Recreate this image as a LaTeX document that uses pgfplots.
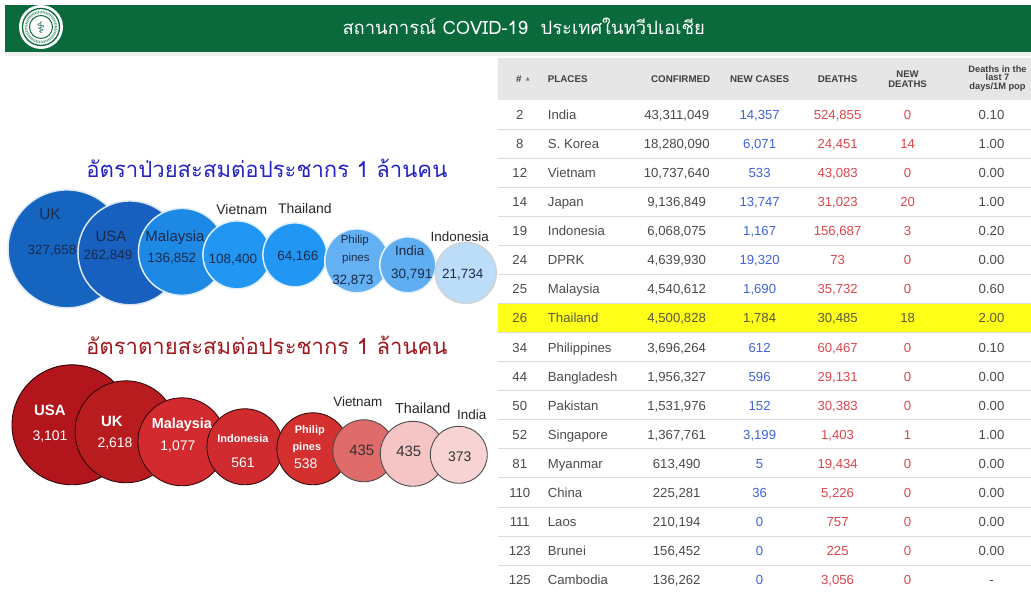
\documentclass[border=0pt]{standalone}
\usepackage{fontspec}
\usepackage{pgfplots}
\usepackage{pgfplotstable}
\pgfplotsset{compat=1.18}
\setmainfont{Liberation Sans}
\newfontfamily\thaifont[Script=Thai]{Loma}
\newfontfamily\symfont{DejaVu Sans}
\newcommand{\fs}[1]{\fontsize{#1}{#1}\selectfont}

\definecolor{hdrgreen}{HTML}{0A6A3C}
\definecolor{btitle}{HTML}{2424C4}
\definecolor{rtitle}{HTML}{A0181F}
\definecolor{navy}{HTML}{1C2A48}
\definecolor{tabtxt}{HTML}{4A4A4A}
\definecolor{tabblue}{HTML}{3F63D6}
\definecolor{tabred}{HTML}{DC464B}
\definecolor{thaitxt}{HTML}{5A5A3A}
\definecolor{hdrgrey}{HTML}{E6E6E6}
\definecolor{sepgray}{HTML}{DCDCDC}
\definecolor{hlyellow}{HTML}{FFFF1A}
% blue bubbles
\definecolor{b1}{HTML}{1565C0}
\definecolor{b2}{HTML}{1760BF}
\definecolor{b3}{HTML}{1E88E5}
\definecolor{b4}{HTML}{2196F3}
\definecolor{b5}{HTML}{2196F3}
\definecolor{b6}{HTML}{63B0F3}
\definecolor{b7}{HTML}{60AEF2}
\definecolor{b8}{HTML}{BBDDFA}
% red bubbles
\definecolor{r1}{HTML}{B2161C}
\definecolor{r2}{HTML}{B81C1F}
\definecolor{r3}{HTML}{D22A2F}
\definecolor{r4}{HTML}{D02C30}
\definecolor{r5}{HTML}{D3302F}
\definecolor{r6}{HTML}{E06B6B}
\definecolor{r7}{HTML}{F5C5C5}
\definecolor{r8}{HTML}{F8D3D3}

\pgfplotstableread{
rank place conf newc deaths newd last7
2 India 43,311,049 14,357 524,855 0 0.10
8 {S. Korea} 18,280,090 6,071 24,451 14 1.00
12 Vietnam 10,737,640 533 43,083 0 0.00
14 Japan 9,136,849 13,747 31,023 20 1.00
19 Indonesia 6,068,075 1,167 156,687 3 0.20
24 DPRK 4,639,930 19,320 73 0 0.00
25 Malaysia 4,540,612 1,690 35,732 0 0.60
26 Thailand 4,500,828 1,784 30,485 18 2.00
34 Philippines 3,696,264 612 60,467 0 0.10
44 Bangladesh 1,956,327 596 29,131 0 0.00
50 Pakistan 1,531,976 152 30,383 0 0.00
52 Singapore 1,367,761 3,199 1,403 1 1.00
81 Myanmar 613,490 5 19,434 0 0.00
110 China 225,281 36 5,226 0 0.00
111 Laos 210,194 0 757 0 0.00
123 Brunei 156,452 0 225 0 0.00
125 Cambodia 136,262 0 3,056 0 -
}\covtab

\pgfplotsset{
  tabcol/.style 2 args={only marks, mark=*, mark size=0pt,
    mark options={draw=none, fill=none},
    nodes near coords, point meta=explicit symbolic,
    nodes near coords style={anchor=#1, font=\fs{13.2}, inner sep=0pt, text=#2}},
}
% x, anchor, column, colour
\newcommand{\tabcolumn}[4]{%
  \addplot[tabcol={#2}{#4}, skip coords between index={7}{8}]
    table[x expr=#1, y expr=119.7+29.06*\coordindex, meta=#3] \covtab;
  \addplot[tabcol={#2}{thaitxt}, skip coords between index={0}{7}, skip coords between index={8}{20}]
    table[x expr=#1, y expr=119.7+29.06*\coordindex, meta=#3] \covtab;
}

\begin{document}
\begin{tikzpicture}
\begin{axis}[
  set layers,
  scale only axis, width=1031bp, height=592bp,
  xmin=0, xmax=1031, ymin=0, ymax=592, y dir=reverse,
  hide axis, clip=false]

\path (axis cs:0,0) rectangle (axis cs:1031,592);

% header bar
\fill[gray!12] (axis cs:5,52) rectangle (axis cs:1031,56);
\fill[hdrgreen] (axis cs:5,5) rectangle (axis cs:1031,52);
\fill[white] (axis cs:41,27) circle[radius=22bp];
\draw[hdrgreen, line width=1.3bp] (axis cs:41,27) circle[radius=18.5bp];
\draw[hdrgreen!60, line width=2.5bp, dash pattern=on 0.8bp off 0.8bp] (axis cs:41,27) circle[radius=15bp];
\draw[hdrgreen, line width=1bp] (axis cs:41,27) circle[radius=11.5bp];
\node[text=hdrgreen, font=\symfont\fs{16}] at (axis cs:41,27.5) {⚕};
\node[text=white, font=\thaifont\fs{18.5}] at (axis cs:524,26) {สถานการณ์ COVID-19\ \ ประเทศในทวีปเอเชีย};

% titles
\node[text=btitle, font=\thaifont\fs{22.2}] at (axis cs:267,168) {อัตราป่วยสะสมต่อประชากร 1 ล้านคน};
\node[text=rtitle, font=\thaifont\fs{22.2}] at (axis cs:267,345) {อัตราตายสะสมต่อประชากร 1 ล้านคน};

% blue bubbles
\addplot[only marks, mark=*, mark size=59bp, mark options={fill=b1, draw=white!85!b1, line width=1.5bp}] coordinates {(67,249)};
\addplot[only marks, mark=*, mark size=52bp, mark options={fill=b2, draw=white!85!b2, line width=1.5bp}] coordinates {(130,253)};
\addplot[only marks, mark=*, mark size=43.5bp, mark options={fill=b3, draw=white!85!b3, line width=1.5bp}] coordinates {(182,252)};
\addplot[only marks, mark=*, mark size=34bp, mark options={fill=b4, draw=white!85!b4, line width=1.5bp}] coordinates {(237,255)};
\addplot[only marks, mark=*, mark size=32bp, mark options={fill=b5, draw=white!85!b5, line width=1.5bp}] coordinates {(295,255)};
\addplot[only marks, mark=*, mark size=32bp, mark options={fill=b6, draw=white!85!b6, line width=1.5bp}] coordinates {(357,261)};
\addplot[only marks, mark=*, mark size=28bp, mark options={fill=b7, draw=white!85!b7, line width=1.5bp}] coordinates {(408,265)};
\addplot[only marks, mark=*, mark size=30.5bp, mark options={fill=b8, draw=gray!35, line width=1.5bp}] coordinates {(466,273)};

% red bubbles
\addplot[only marks, mark=*, mark size=60bp, mark options={fill=r1, draw=black!75!r1, line width=0.9bp}] coordinates {(72,425)};
\addplot[only marks, mark=*, mark size=51bp, mark options={fill=r2, draw=black!75!r2, line width=0.9bp}] coordinates {(126,432)};
\addplot[only marks, mark=*, mark size=44bp, mark options={fill=r3, draw=black!75!r3, line width=0.9bp}] coordinates {(182,442)};
\addplot[only marks, mark=*, mark size=38bp, mark options={fill=r4, draw=black!75!r4, line width=0.9bp}] coordinates {(245,447)};
\addplot[only marks, mark=*, mark size=36bp, mark options={fill=r5, draw=black!75!r5, line width=0.9bp}] coordinates {(313,449)};
\addplot[only marks, mark=*, mark size=31bp, mark options={fill=r6, draw=black!70, line width=0.9bp}] coordinates {(364,451)};
\addplot[only marks, mark=*, mark size=32.5bp, mark options={fill=r7, draw=black!70, line width=0.9bp}] coordinates {(413,454)};
\addplot[only marks, mark=*, mark size=28.5bp, mark options={fill=r8, draw=black!70, line width=0.9bp}] coordinates {(459,455)};

\begin{pgfonlayer}{axis foreground}
% blue labels
\begin{scope}[every node/.style={text=navy, inner sep=0pt}]
\node[font=\fs{15.5}] at (axis cs:50,214) {UK};
\node[font=\fs{13.5}] at (axis cs:52,251) {327,658};
\node[font=\fs{15}] at (axis cs:111,236) {USA};
\node[font=\fs{13.5}] at (axis cs:108,256) {262,849};
\node[font=\fs{15}] at (axis cs:175,238) {Malaysia};
\node[font=\fs{13.5}] at (axis cs:172,259) {136,852};
\node[font=\fs{13.5}] at (axis cs:233,260) {108,400};
\node[font=\fs{13.5}] at (axis cs:298,257) {64,166};
\node[font=\fs{11.5}] at (axis cs:355,241) {Philip};
\node[font=\fs{11.5}] at (axis cs:356,259) {pines};
\node[font=\fs{13.5}] at (axis cs:353,281) {32,873};
\node[font=\fs{13.5}] at (axis cs:410,251) {India};
\node[font=\fs{13.5}] at (axis cs:412,275) {30,791};
\node[font=\fs{13.5}] at (axis cs:463,275) {21,734};
\node[text=black!85, font=\fs{14}] at (axis cs:242,210) {Vietnam};
\node[text=black!85, font=\fs{14}] at (axis cs:305,209) {Thailand};
\node[text=black!85, font=\fs{13.5}] at (axis cs:460,237) {Indonesia};
\end{scope}
% red labels
\begin{scope}[every node/.style={text=white, inner sep=0pt}]
\node[font=\bfseries\fs{15}] at (axis cs:50,411) {USA};
\node[font=\fs{14}] at (axis cs:50,437) {3,101};
\node[font=\bfseries\fs{15}] at (axis cs:112,422) {UK};
\node[font=\fs{14}] at (axis cs:115,444) {2,618};
\node[font=\bfseries\fs{14.5}] at (axis cs:182,425) {Malaysia};
\node[font=\fs{14}] at (axis cs:178,447) {1,077};
\node[font=\bfseries\fs{11}] at (axis cs:243,439) {Indonesia};
\node[font=\fs{14}] at (axis cs:243,463) {561};
\node[font=\bfseries\fs{11}] at (axis cs:310,431) {Philip};
\node[font=\bfseries\fs{11}] at (axis cs:307,448) {pines};
\node[font=\fs{14}] at (axis cs:306,464) {538};
\node[text=black!80, font=\fs{15}] at (axis cs:362,451) {435};
\node[text=black!80, font=\fs{15}] at (axis cs:409,452) {435};
\node[text=black!80, font=\fs{14}] at (axis cs:460,457) {373};
\node[text=black!85, font=\fs{13.5}] at (axis cs:358,402) {Vietnam};
\node[text=black!85, font=\fs{14.5}] at (axis cs:423,409) {Thailand};
\node[text=black!85, font=\fs{13.5}] at (axis cs:472,415) {India};
\end{scope}
\end{pgfonlayer}

% table background
\fill[hdrgrey] (axis cs:498,58) rectangle (axis cs:1031,100.5);
\fill[hlyellow] (axis cs:498,304.5) rectangle (axis cs:1031,333.5);
\pgfplotsinvokeforeach{0,...,15}{
  \draw[sepgray, line width=1bp] (axis cs:498,{129.5+29.06*#1}) -- (axis cs:1031,{129.5+29.06*#1});
}

% table header
\begin{scope}[every node/.style={text=black!75, inner sep=0pt, font=\bfseries\fs{9.8}}]
\node at (axis cs:519,79.5) {\#};
\node[text=black!55, font=\symfont\fs{5}] at (axis cs:528,79.5) {▲};
\node[anchor=west] at (axis cs:548,79.5) {PLACES};
\node at (axis cs:681,79.5) {CONFIRMED};
\node at (axis cs:760,79.5) {NEW CASES};
\node at (axis cs:838,79.5) {DEATHS};
\node[align=center, font=\bfseries\fontsize{9.6}{10}\selectfont] at (axis cs:908,79) {NEW\\DEATHS};
\node[align=center, font=\bfseries\fontsize{9.3}{8.8}\selectfont] at (axis cs:998,78.5) {Deaths in the\\last 7\\days/1M pop};
\end{scope}

% table body
\tabcolumn{520}{base}{rank}{tabtxt}
\tabcolumn{548}{base west}{place}{tabtxt}
\tabcolumn{677}{base}{conf}{tabtxt}
\tabcolumn{760}{base}{newc}{tabblue}
\tabcolumn{838}{base}{deaths}{tabred}
\tabcolumn{908}{base}{newd}{tabred}
\tabcolumn{992}{base}{last7}{tabtxt}

\end{axis}
\end{tikzpicture}
\end{document}
